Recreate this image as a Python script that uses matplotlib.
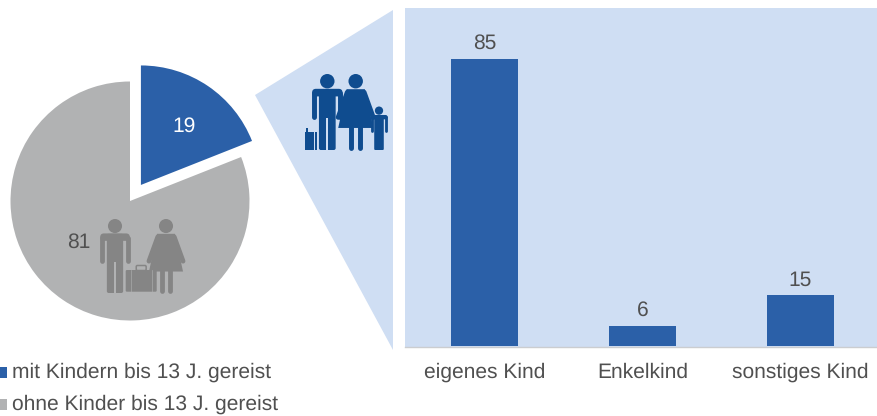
import matplotlib
matplotlib.use("Agg")
import matplotlib.pyplot as plt
from matplotlib.patches import Polygon, Rectangle, Circle, FancyBboxPatch

plt.rcParams['font.family'] = ['Liberation Sans', 'DejaVu Sans']
plt.rcParams['text.hinting'] = 'no_hinting'
plt.rcParams['text.hinting_factor'] = 1

pie_labels = ["mit Kindern bis 13 J. gereist", "ohne Kinder bis 13 J. gereist"]
pie_values = [19, 81]
bar_categories = ["eigenes Kind", "Enkelkind", "sonstiges Kind"]
bar_values = [85, 6, 15]

BLUE = "#2B60A8"
GRAY = "#B1B2B3"
LIGHT = "#CFDEF3"
TEXT = "#505050"
W, H = 877, 416
FS = 15.25

fig = plt.figure(figsize=(W / 100, H / 100), dpi=100)

# Backdrop in pixel coordinates
bg = fig.add_axes([0, 0, 1, 1])
bg.set_xlim(0, W)
bg.set_ylim(H, 0)
bg.axis("off")
bg.add_patch(Polygon([(255, 95), (393, 10), (393, 350)], closed=True, fc=LIGHT, ec="none"))
bg.add_patch(Rectangle((405, 8), 472, 339, fc=LIGHT, ec="none"))
bg.plot([405, 877], [347, 347], color="#CBCDD0", lw=1)

# Pie
R = 119.5
cx, cy = 130, 201
pad = 1.16
size = 2 * R * pad
pie_ax = fig.add_axes([(cx - size / 2) / W, 1 - (cy + size / 2) / H, size / W, size / H])
wedges, texts = pie_ax.pie(pie_values, colors=[BLUE, GRAY], startangle=90, counterclock=False,
                           explode=[0.14, 0], radius=1 / pad,
                           wedgeprops=dict(linewidth=0))
pie_ax.set_xlim(-1, 1)
pie_ax.set_ylim(-1, 1)
pie_ax.text(0.39, 0.54, str(pie_values[0]), color="white", fontsize=FS, ha="center", va="center")
pie_ax.text(-0.37, -0.30, str(pie_values[1]), color=TEXT, fontsize=FS, ha="center", va="center")

# Bars
top_px, bottom_px = 8, 346
ax = fig.add_axes([406 / W, 1 - bottom_px / H, 473 / W, (bottom_px - top_px) / H])
ax.patch.set_alpha(0)
xs = range(len(bar_values))
bars = ax.bar(xs, bar_values, width=0.423, color=BLUE)
ax.set_xlim(-0.5, 2.5)
ax.set_ylim(0, (bottom_px - top_px) / 3.38)
for s in ax.spines.values():
    s.set_visible(False)
ax.set_yticks([])
ax.set_xticks(list(xs))
ax.set_xticklabels(bar_categories, fontsize=FS, color=TEXT, va="baseline")
ax.tick_params(axis="x", length=0, pad=23)
for x, v in zip(xs, bar_values):
    ax.annotate(str(v), (x, v), xytext=(0, 7), textcoords="offset points", ha="center", va="baseline",
                fontsize=FS, color=TEXT)

# Legend
fg = fig.add_axes([0, 0, 1, 1])
fg.set_xlim(0, W)
fg.set_ylim(H, 0)
fg.axis("off")
fg.patch.set_alpha(0)
for y, lab, c in zip([378, 410], pie_labels, [BLUE, GRAY]):
    fg.add_patch(Rectangle((0, y - 11), 7, 11, fc=c, ec="none"))
    fg.text(12, y, lab, fontsize=FS, color=TEXT, va="baseline", ha="left")


def thick(a, p, q, w, color):
    a.plot([p[0], q[0]], [p[1], q[1]], color=color, lw=w * 0.72, solid_capstyle="round")


def man(a, x, top, h, color, back):
    r = 0.095 * h
    a.add_patch(Circle((x, top + r), r, fc=color, ec="none"))
    a.add_patch(FancyBboxPatch((x - 0.2 * h, top + 0.195 * h), 0.4 * h, 0.10 * h,
                               boxstyle="round,pad=0,rounding_size=%f" % (0.05 * h), fc=color, ec="none"))
    a.add_patch(FancyBboxPatch((x - 0.11 * h, top + 0.2 * h), 0.22 * h, 0.8 * h,
                               boxstyle="round,pad=0,rounding_size=%f" % (0.025 * h), fc=color, ec="none"))
    for d in (-1, 1):
        thick(a, (x + d * 0.17 * h, top + 0.25 * h), (x + d * 0.17 * h, top + 0.57 * h), 0.065 * h, color)
    a.add_patch(Rectangle((x - 0.011 * h, top + 0.58 * h), 0.022 * h, 0.42 * h, fc=back, ec="none"))


def woman(a, x, top, h, color):
    r = 0.095 * h
    a.add_patch(Circle((x, top + r), r, fc=color, ec="none"))
    a.add_patch(Polygon([(x - 0.12 * h, top + 0.2 * h), (x + 0.12 * h, top + 0.2 * h),
                         (x + 0.23 * h, top + 0.71 * h), (x - 0.23 * h, top + 0.71 * h)],
                        closed=True, fc=color, ec="none"))
    for d in (-1, 1):
        thick(a, (x + d * 0.11 * h, top + 0.24 * h), (x + d * 0.23 * h, top + 0.57 * h), 0.065 * h, color)
        thick(a, (x + d * 0.058 * h, top + 0.7 * h), (x + d * 0.058 * h, top + 0.97 * h), 0.065 * h, color)


def case(a, x0, x1, y0, y1, color, back):
    a.add_patch(FancyBboxPatch((x0, y0), x1 - x0, y1 - y0, boxstyle="round,pad=0,rounding_size=1.2",
                               fc=color, ec="none"))
    xm = (x0 + x1) / 2
    wh = (x1 - x0) * 0.16
    a.add_patch(FancyBboxPatch((xm - wh, y0 - 4.5), 2 * wh, 5, boxstyle="round,pad=0,rounding_size=1.2",
                               fc="none", ec=color, lw=1.1))
    for f in (0.16, 0.84):
        xl = x0 + f * (x1 - x0)
        a.plot([xl, xl], [y0, y1], color=back, lw=0.5, alpha=0.8)


# Blue family icon
ICON = "#0F4C8F"
man(fg, 327.3, 74, 76, ICON, LIGHT)
woman(fg, 355.7, 74, 76, ICON)
man(fg, 379, 106.5, 43.5, ICON, LIGHT)
fg.add_patch(Rectangle((305, 131.5), 8.5, 18, fc=ICON, ec="none"))
fg.add_patch(Rectangle((314.5, 131.5), 2.5, 18, fc=ICON, ec="none"))
fg.add_patch(Rectangle((306, 128), 1.5, 4, fc=ICON, ec="none"))

# Gray couple icon
GI = "#858585"
man(fg, 115, 219, 74, GI, GRAY)
woman(fg, 166, 219, 74, GI)
case(fg, 125.7, 156.7, 270, 291.7, GI, GRAY)

fig.savefig("out.png", dpi=100)
